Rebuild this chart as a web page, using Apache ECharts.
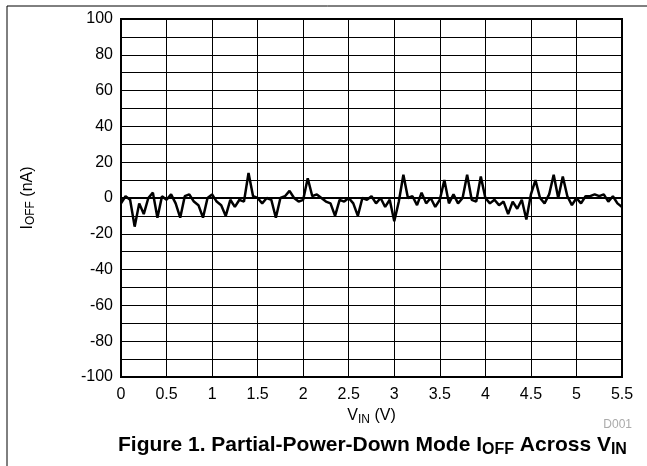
<!DOCTYPE html>
<html>
<head>
<meta charset="utf-8">
<script src="https://cdn.jsdelivr.net/npm/echarts@6/dist/echarts.min.js"></script>
<style>
html,body{margin:0;padding:0;background:#fff;}
#c{width:647px;height:466px;}
</style>
</head>
<body>
<div id="c"></div>
<script>
// I_OFF (nA) sampled every 0.05 V from 0 to 5.5 V
const ioff = [
  -3, 1, -1, -16, -3, -9, 0, 3, -11, 1,
  -1, 2, -3, -11, 1, 2, -2, -4, -11, 0,
  2, -2, -4, -10, -1, -5, -1, -2, 14, 1,
  0, -3, 0, -1, -11, 0, 1, 4, 0, -2,
  -1, 11, 1, 2, 0, -2, -3, -10, -1, -2,
  0, -3, -10, 0, -1, 1, -3, 0, -5, -1,
  -13, -2, 13, 0, 1, -4, 3, -3, 0, -5,
  -1, 10, -3, 2, -3, 0, 13, -1, -2, 12,
  0, -3, -1, -4, -2, -9, -2, -6, -1, -12,
  2, 10, 0, -3, 2, 13, 0, 12, 1, -4,
  0, -3, 1, 1, 2, 1, 2, -2, 1, -3,
  -5
];
const vStep = 0.05;
const vin = ioff.map((_, i) => +(i * vStep).toFixed(2));
const xTicks = [0, 0.5, 1, 1.5, 2, 2.5, 3, 3.5, 4, 4.5, 5, 5.5];
const yTicks = [-100, -80, -60, -40, -20, 0, 20, 40, 60, 80, 100];

const chart = echarts.init(document.getElementById('c'), null, {renderer: 'canvas'});
const font = 'Liberation Sans, Arial, sans-serif';
chart.setOption({
  animation: false,
  backgroundColor: '#fff',
  grid: {left: 121, right: 25, top: 19, bottom: 89, show: true, borderColor: '#000', borderWidth: 2, backgroundColor: 'transparent'},
  graphic: [
    {type: 'rect', shape: {x: 7, y: 6, width: 700, height: 500}, style: {fill: 'none', stroke: '#000', lineWidth: 1}, z: -1, silent: true},
    {type: 'text', right: 15, top: 419, style: {text: 'D001', fill: '#aaa', font: '12px ' + font}},
    {type: 'text', left: 118, top: 435, style: {
      rich: {
        b: {fontFamily: font, fontWeight: 'bold', fontSize: 21, fill: '#000'},
        s: {fontFamily: font, fontWeight: 'bold', fontSize: 16, fill: '#000', padding: [9, 0, 0, 0]}
      },
      text: '{b|Figure 1. Partial-Power-Down Mode I}{s|OFF}{b| Across V}{s|IN}'
    }}
  ],
  xAxis: {
    type: 'value', min: xTicks[0], max: xTicks[xTicks.length - 1], interval: 0.5,
    name: 'V{s|IN} (V)', nameLocation: 'middle', nameGap: 26,
    nameTextStyle: {fontFamily: font, fontSize: 16, color: '#000',
      rich: {s: {fontFamily: font, fontSize: 12, color: '#000', padding: [7, 0, 0, 0]}}},
    axisLine: {show: true, lineStyle: {color: '#000', width: 2}},
    axisTick: {show: false},
    axisLabel: {fontFamily: font, fontSize: 16, color: '#000', margin: 10,
      formatter: v => String(v)},
    splitLine: {show: true, lineStyle: {color: '#000', width: 1}}
  },
  yAxis: {
    type: 'value', min: yTicks[0], max: yTicks[yTicks.length - 1], interval: 20,
    name: 'I{s|OFF} (nA)', nameLocation: 'middle', nameGap: 84, nameRotate: 90,
    nameTextStyle: {fontFamily: font, fontSize: 16, color: '#000',
      rich: {s: {fontFamily: font, fontSize: 12, color: '#000', padding: [7, 0, 0, 0]}}},
    axisLine: {show: true, lineStyle: {color: '#000', width: 2}},
    axisTick: {show: false},
    minorTick: {show: false, splitNumber: 2},
    axisLabel: {fontFamily: font, fontSize: 16, color: '#000', margin: 8},
    splitLine: {show: true, lineStyle: {color: '#000', width: 1}},
    minorSplitLine: {show: true, lineStyle: {color: '#000', width: 1}}
  },
  series: [{
    type: 'line',
    data: vin.map((v, i) => [v, ioff[i]]),
    showSymbol: false,
    lineStyle: {color: '#000', width: 2.5},
    z: 5
  }]
});
</script>
</body>
</html>
